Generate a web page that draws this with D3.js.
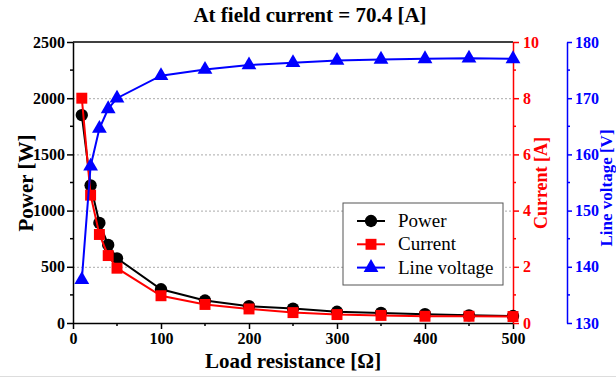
<!DOCTYPE html>
<html lang="en">
<head>
  <meta charset="UTF-8">
  <title>At field current = 70.4 [A]</title>
  <script src="https://d3js.org/d3.v7.min.js"></script>
  <style>
    body{ margin:0; background:#fff; }
    svg text{ font-family:"Times New Roman","Liberation Serif",Tinos,"DejaVu Serif",serif !important; }
    .tick text{ font-weight:bold; font-size:16px; }
  </style>
</head>
<body>
  <svg id="chart" width="616" height="378"></svg>
  <script>
    // load resistance [ohm]
    const resistance = [10, 20, 30, 40, 50, 100, 150, 200, 250, 300, 350, 400, 450, 500];
    const power = [1850, 1225, 890, 695, 575, 300, 200, 150, 128, 100, 90, 78, 68, 62];
    const current = [8.0, 4.55, 3.15, 2.4, 1.95, 0.97, 0.66, 0.5, 0.37, 0.3, 0.27, 0.24, 0.24, 0.23];
    const voltage = [137.7, 157.9, 164.6, 168.1, 170.0, 174.0, 175.1, 175.9, 176.3, 176.7, 176.9, 177.0, 177.1, 177.0];

    const xTicks = [0, 100, 200, 300, 400, 500];
    const powerTicks = [0, 500, 1000, 1500, 2000, 2500];
    const currentTicks = [0, 2, 4, 6, 8, 10];
    const voltageTicks = [130, 140, 150, 160, 170, 180];

    const margin = { top: 42, right: 103, bottom: 55, left: 73 };
    const W = 616, H = 378;
    const width = W - margin.left - margin.right;
    const height = H - margin.top - margin.bottom;
    const fmt = d3.format("d");

    const svg = d3.select("#chart");
    svg.append("line").attr("x1", 0).attr("x2", W).attr("y1", 376.5).attr("y2", 376.5)
      .attr("stroke", "#ddd");
    const g = svg.append("g").attr("transform", `translate(${margin.left},${margin.top})`);

    const x = d3.scaleLinear().domain([0, 500]).range([0, width]);
    const yP = d3.scaleLinear().domain([0, 2500]).range([height, 0]);
    const yC = d3.scaleLinear().domain([0, 10]).range([height, 0]);
    const yV = d3.scaleLinear().domain([130, 180]).range([height, 0]);

    // dotted grid
    g.append("g").selectAll("line")
      .data(powerTicks.slice(1, -1))
      .enter().append("line")
      .attr("x1", 0).attr("x2", width)
      .attr("y1", d => yP(d) + 0.5).attr("y2", d => yP(d) + 0.5)
      .attr("stroke", "#aaa").attr("stroke-width", 1).attr("stroke-dasharray", "2,2");

    // top frame
    g.append("line").attr("x1", 0).attr("x2", width).attr("y1", 0).attr("y2", 0)
      .attr("stroke", "#000").attr("stroke-width", 1.5);

    function styleAxis(sel, color) {
      sel.attr("font-family", null).attr("font-size", null);
      sel.select(".domain").attr("stroke", color).attr("stroke-width", 1.5);
      sel.selectAll(".tick line").attr("stroke", color).attr("stroke-width", 1.5);
      sel.selectAll(".tick text").attr("fill", color);
    }
    function minor(sel, scale, vals, orient, len, color) {
      sel.append("g").selectAll("line").data(vals).enter().append("line")
        .attr("stroke", color).attr("stroke-width", 1.5)
        .each(function (d) {
          const l = d3.select(this);
          if (orient === "bottom") l.attr("x1", scale(d)).attr("x2", scale(d)).attr("y1", 0).attr("y2", len);
          else if (orient === "left") l.attr("y1", scale(d)).attr("y2", scale(d)).attr("x1", 0).attr("x2", -len);
          else l.attr("y1", scale(d)).attr("y2", scale(d)).attr("x1", 0).attr("x2", len);
        });
    }

    // x axis
    const gx = g.append("g").attr("transform", `translate(0,${height})`)
      .call(d3.axisBottom(x).tickValues(xTicks).tickFormat(fmt).tickSize(6).tickPadding(4).tickSizeOuter(0));
    styleAxis(gx, "#000");
    minor(gx, x, [50, 150, 250, 350, 450], "bottom", 3, "#000");

    // left axis
    const gl = g.append("g")
      .call(d3.axisLeft(yP).tickValues(powerTicks).tickFormat(fmt).tickSize(6).tickPadding(2).tickSizeOuter(0));
    styleAxis(gl, "#000");
    minor(gl, yP, [250, 750, 1250, 1750, 2250], "left", 3, "#000");

    // red right axis
    const gr = g.append("g").attr("transform", `translate(${width},0)`)
      .call(d3.axisRight(yC).tickValues(currentTicks).tickFormat(fmt).tickSize(6).tickPadding(4).tickSizeOuter(0));
    styleAxis(gr, "#f00");
    minor(gr, yC, [1, 3, 5, 7, 9], "right", 3, "#f00");

    // blue right axis
    const gb = g.append("g").attr("transform", `translate(${width + 54},0)`)
      .call(d3.axisRight(yV).tickValues(voltageTicks).tickFormat(fmt).tickSize(5).tickPadding(3).tickSizeOuter(0));
    styleAxis(gb, "#00f");
    minor(gb, yV, [135, 145, 155, 165, 175], "right", 3, "#00f");

    // series
    const series = [
      { name: "Power", vals: power, y: yP, color: "#000", shape: d3.symbolCircle, size: 120 },
      { name: "Current", vals: current, y: yC, color: "#f00", shape: d3.symbolSquare, size: 120 },
      { name: "Line voltage", vals: voltage, y: yV, color: "#00f", shape: d3.symbolTriangle, size: 95 }
    ];

    series.forEach(s => {
      const line = d3.line().x((d, i) => x(resistance[i])).y(d => s.y(d));
      g.append("path").datum(s.vals)
        .attr("d", line).attr("fill", "none")
        .attr("stroke", s.color).attr("stroke-width", 2);
      g.append("g").selectAll("path").data(s.vals).enter().append("path")
        .attr("transform", (d, i) => `translate(${x(resistance[i])},${s.y(d)})`)
        .attr("d", d3.symbol().type(s.shape).size(s.size))
        .attr("fill", s.color);
    });

    // legend
    const lg = svg.append("g").attr("transform", "translate(343,203)");
    lg.append("rect").attr("width", 160).attr("height", 82)
      .attr("fill", "#fff").attr("stroke", "#555").attr("stroke-width", 1);
    series.forEach((s, i) => {
      const yy = 18 + i * 23.3;
      lg.append("line").attr("x1", 14).attr("x2", 42).attr("y1", yy).attr("y2", yy)
        .attr("stroke", s.color).attr("stroke-width", 2);
      lg.append("path").attr("transform", `translate(28,${yy})`)
        .attr("d", d3.symbol().type(s.shape).size(s.size)).attr("fill", s.color);
      lg.append("text").attr("x", 55).attr("y", yy + 6)
        .attr("font-size", 19).text(s.name);
    });

    // titles
    svg.append("text").attr("x", 310).attr("y", 22).attr("text-anchor", "middle")
      .attr("font-size", 21).attr("font-weight", "bold").text("At field current = 70.4 [A]");
    svg.append("text").attr("x", 293).attr("y", 368).attr("text-anchor", "middle")
      .attr("font-size", 21).attr("font-weight", "bold").text("Load resistance [Ω]");
    svg.append("text").attr("transform", "translate(33,183) rotate(-90)").attr("text-anchor", "middle")
      .attr("font-size", 21).attr("font-weight", "bold").text("Power [W]");
    svg.append("text").attr("transform", "translate(547,183) rotate(-90)").attr("text-anchor", "middle")
      .attr("font-size", 18).attr("font-weight", "bold").attr("fill", "#f00").text("Current [A]");
    svg.append("text").attr("transform", "translate(612,188) rotate(-90)").attr("text-anchor", "middle")
      .attr("font-size", 17).attr("font-weight", "bold").attr("fill", "#00f").text("Line voltage [V]");
  </script>
</body>
</html>
